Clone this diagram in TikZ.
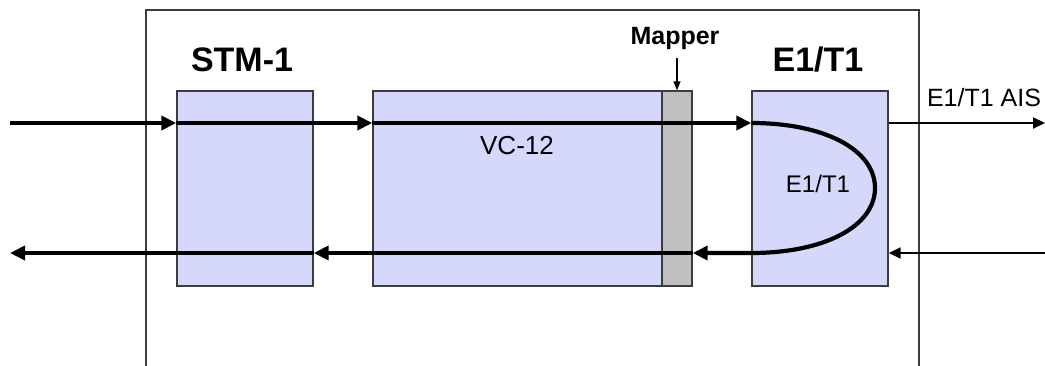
\documentclass[tikz,border=0pt]{standalone}
\usepackage{fontspec}
\setmainfont{Liberation Sans}
\usetikzlibrary{arrows.meta,positioning}
\definecolor{blockfill}{RGB}{213,215,251}
\definecolor{mapfill}{RGB}{192,192,192}
\definecolor{framecol}{RGB}{60,60,60}

\begin{document}
\begin{tikzpicture}[
  x=1pt, y=-1pt,
  block/.style={draw=framecol, line width=1.4pt, fill=blockfill, inner sep=0pt,
                minimum width=136pt, minimum height=195pt},
  mapblock/.style={draw=framecol, line width=1.4pt, fill=mapfill, inner sep=0pt,
                   minimum width=30pt, minimum height=195pt},
  title/.style={font=\fontsize{34}{40}\selectfont\bfseries, inner sep=0pt, anchor=base},
  lbl/.style={font=\fontsize{26}{30}\selectfont, inner sep=0pt, anchor=base},
  bigarr/.style={-{Triangle[length=15pt, width=14pt]}, line width=4.2pt},
  thinarr/.style={-{Triangle[length=12pt, width=11pt]}, line width=2pt}
]
\useasboundingbox (0,0) rectangle (1045,366);

% open frame of the unit
\draw[framecol, line width=1.5pt] (146,366) -- (146,10) -- (919,10) -- (919,366);

\node[block] (stm) at (245,188.5) {};
\node[block, minimum width=289pt] (vc) at (517.5,188.5) {};
\node[mapblock] (map) at (677,188.5) {};
\node[block] (e1) at (820,188.5) {};

\node[title] (stmlbl) at (242,72) {STM-1};
\node[title] (e1lbl) at (818,72) {E1/T1};
\node[lbl, font=\fontsize{25}{30}\selectfont\bfseries] (maplbl) at (675,45) {Mapper};
\node[lbl] (vclbl) at (517,155) {VC-12};
\node[lbl, font=\fontsize{24}{28}\selectfont] (looplbl) at (818,193) {E1/T1};
\node[lbl, font=\fontsize{25}{30}\selectfont] (aislbl) at (984,107) {E1/T1 AIS};

\coordinate (inL) at (10,123);
\coordinate (outL) at (10,253);
\coordinate (aisR) at (1045,123);
\coordinate (inR) at (1045,253);
\coordinate (tipmap) at (677,58);

% forward direction
\draw[bigarr] (inL) -- (stm.west |- inL);
\draw[bigarr] (stm.west |- inL) -- (vc.west |- inL);
\draw[bigarr] (vc.west |- inL) -- (e1.west |- inL);
% loop back inside E1/T1
\draw[bigarr] (e1.west |- inL) .. controls (825,123) and (875,150) .. (875,188)
  .. controls (875,226) and (825,253) .. (e1.west |- outL) -- (map.east |- outL);
% return direction
\draw[bigarr] (map.east |- outL) -- (stm.east |- outL);
\draw[bigarr] (stm.east |- outL) -- (outL);

\draw[thinarr] (e1.east |- aisR) -- (aisR);
\draw[thinarr] (inR) -- (e1.east |- inR);
\draw[-{Triangle[length=9pt, width=7pt]}, line width=1.4pt] (tipmap) -- (map.north);
\end{tikzpicture}
\end{document}
